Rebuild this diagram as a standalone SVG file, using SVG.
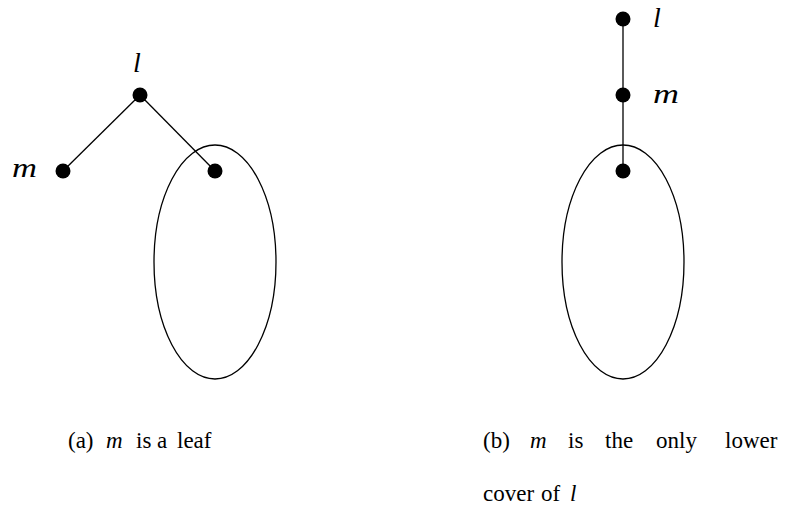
<svg xmlns="http://www.w3.org/2000/svg" width="789" height="510" viewBox="0 0 789 510">
<style>
.e{stroke:#000;stroke-width:1.3;fill:none}
.n{fill:#000}
.i{font-family:"Liberation Serif",serif;font-style:italic;font-size:28px;fill:#000}
.c{font-family:"Liberation Serif",serif;font-size:23px;fill:#000}
</style>
<rect width="789" height="510" fill="#fff"/>
<g id="connectors">
<line class="e" x1="140" y1="95" x2="63" y2="171"/>
<line class="e" x1="140" y1="95" x2="215" y2="171"/>
<line class="e" x1="623" y1="19" x2="623" y2="171"/>
</g>
<g id="setA"><ellipse class="e" cx="215" cy="262" rx="61" ry="117"/></g>
<g id="setB"><ellipse class="e" cx="623" cy="262" rx="61" ry="117"/></g>
<g id="a-l"><circle class="n" cx="140" cy="95" r="7.5"/><text class="i" x="133" y="72">l</text></g>
<g id="a-m"><circle class="n" cx="63" cy="171" r="7.5"/><text class="i" x="12" y="177" textLength="25" lengthAdjust="spacingAndGlyphs">m</text></g>
<g id="a-c"><circle class="n" cx="215" cy="171" r="7.5"/></g>
<g id="b-l"><circle class="n" cx="623" cy="19" r="7.5"/><text class="i" x="653" y="27">l</text></g>
<g id="b-m"><circle class="n" cx="623" cy="95" r="7.5"/><text class="i" x="653" y="103" textLength="26" lengthAdjust="spacingAndGlyphs">m</text></g>
<g id="b-c"><circle class="n" cx="623" cy="171" r="7.5"/></g>
<text class="c" y="448"><tspan x="68">(a)</tspan><tspan x="106" font-style="italic">m</tspan><tspan x="136">is</tspan><tspan x="157">a</tspan><tspan x="177">leaf</tspan></text>
<text class="c" y="448"><tspan x="483">(b)</tspan><tspan x="530" font-style="italic">m</tspan><tspan x="568">is</tspan><tspan x="605">the</tspan><tspan x="656">only</tspan><tspan x="725">lower</tspan></text>
<text class="c" y="501"><tspan x="483">cover</tspan><tspan x="541">of</tspan><tspan x="570" font-style="italic">l</tspan></text>
</svg>
